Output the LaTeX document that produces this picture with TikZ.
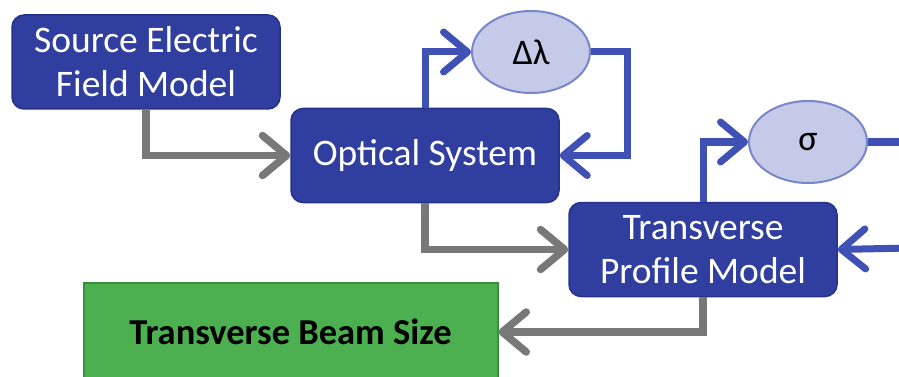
\documentclass[tikz,border=0pt]{standalone}
\usepackage{fontspec}
\setmainfont{Carlito}
\usetikzlibrary{arrows.meta,shapes.geometric}

\definecolor{boxblue}{HTML}{303F9F}
\definecolor{boxedge}{HTML}{26328A}
\definecolor{linkblue}{HTML}{3F51B5}
\definecolor{paramfill}{HTML}{C5CAE9}
\definecolor{paramedge}{HTML}{7986CB}
\definecolor{linkgray}{HTML}{787878}
\definecolor{resultfill}{HTML}{4CAF50}
\definecolor{resultedge}{HTML}{3B8E3F}

\tikzset{
  model/.style={rectangle,rounded corners=12pt,draw=boxedge,line width=1.5pt,fill=boxblue,
    text=white,minimum width=268pt,minimum height=94pt,align=center,
    font=\fontsize{37.5}{44}\selectfont},
  param/.style={ellipse,draw=paramedge,line width=2pt,fill=paramfill,minimum width=118pt,
    minimum height=82pt,inner sep=0pt,font=\fontsize{36}{40}\selectfont},
  result/.style={rectangle,draw=resultedge,line width=2pt,fill=resultfill,minimum width=414pt,
    minimum height=98pt,font=\bfseries\fontsize{36.5}{40}\selectfont},
  blueflow/.style={draw=linkblue,line width=7pt,-{Straight Barb[length=24pt,width=40pt,round]}},
  grayflow/.style={draw=linkgray,line width=7.5pt,-{Straight Barb[length=24pt,width=40pt,round]}}
}

\begin{document}
\begin{tikzpicture}[x=1pt,y=-1pt]
        \useasboundingbox (0,0) rectangle (899,377);
        \clip (0,0) rectangle (899,377);
        % models
        \node[model] (source) at (146,62) {Source Electric\\Field Model};
        \node[model] (optical) at (425,155.5) {Optical System};
        \node[model] (profile) at (703,249.5) {Transverse\\Profile Model};
        % parameters
        \node[param] (dlambda) at (531,52) {Δλ};
        \node[param] (sigma) at (808,142) {σ};
        % result
        \node[result] (beamsize) at (290.5,332) {Transverse Beam Size};
        \coordinate (sigmaout) at (910,142);
        \coordinate (profilein) at (910,248);
        % links
        \draw[grayflow] (source.south) |- (optical.west);
        \draw[grayflow] (optical.south) |- (profile.west);
        \draw[grayflow] (profile.south) |- (beamsize.east);
        \draw[blueflow] (optical.north) |- (dlambda.west);
        \draw[blueflow] (dlambda.east) -| ++(36,0) |- (optical.east);
        \draw[blueflow] (profile.north) |- (sigma.west);
        \draw[draw=linkblue,line width=7pt] (sigma.east) -- (sigmaout);
        \draw[blueflow] (profilein) -- (profile.east);
    \end{tikzpicture}
\end{document}
